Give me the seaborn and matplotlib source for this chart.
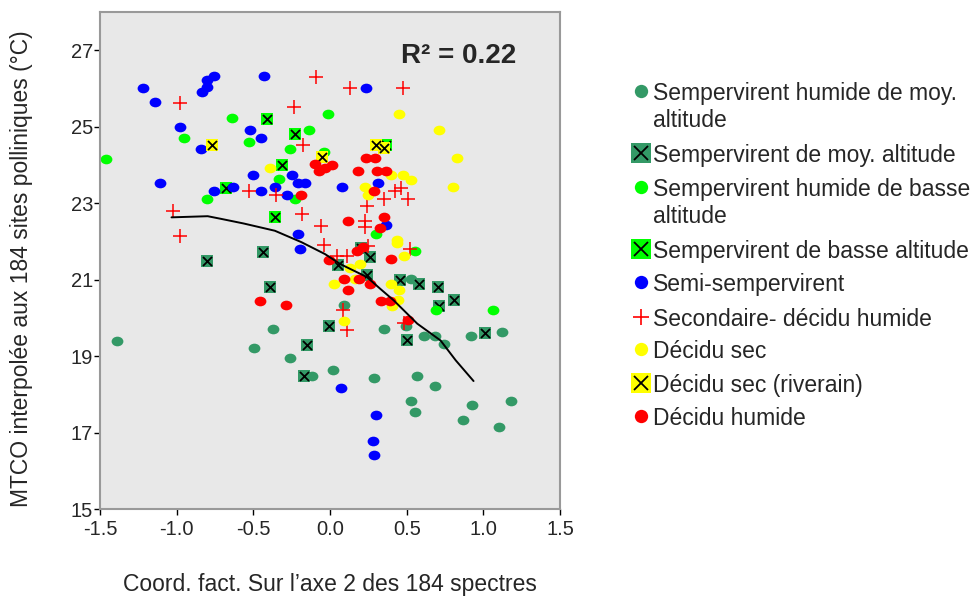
import numpy as np
import pandas as pd
import matplotlib
matplotlib.use("Agg")
import matplotlib.pyplot as plt
import matplotlib.path as mpath
from matplotlib.transforms import Affine2D
from matplotlib.lines import Line2D
import seaborn as sns

# --- data ---
# Sempervirent humide de moy. altitude (circles)
shm_x = [-1.39, -0.374, -0.496, -0.26, -0.12, 0.018, 0.287, 0.564, 0.684, 0.53, 0.557, 0.927, 0.866,
         1.178, 1.10, 0.743, 0.53, 0.094, 0.354, 0.498, 0.612, 0.682, 0.918, 1.12]
shm_y = [19.4, 19.72, 19.22, 18.94, 18.49, 18.63, 18.44, 18.49, 18.22, 17.82, 17.55, 17.72, 17.32,
         17.82, 17.14, 19.31, 21.02, 20.33, 19.72, 19.8, 19.54, 19.54, 19.54, 19.62]
# Sempervirent de moy. altitude (squares)
sm_x = [-0.80, -0.44, -0.39, -0.153, -0.005, -0.17, 0.503, 0.203, 0.262, 0.055, 0.24, 0.455, 0.58,
        0.704, 0.81, 0.71, 1.01]
sm_y = [21.5, 21.72, 20.8, 19.28, 19.8, 18.49, 19.41, 21.83, 21.6, 21.39, 21.11, 21.0, 20.89,
        20.8, 20.48, 20.31, 19.6]
# Sempervirent humide de basse altitude (circles)
shb_x = [-1.46, -0.955, -0.64, -0.53, -0.26, -0.14, -0.015, -0.33, -0.80, -0.23, -0.04, 0.30, 0.557,
         0.69, 1.064]
shb_y = [24.15, 24.71, 25.23, 24.6, 24.41, 24.91, 25.33, 23.63, 23.1, 23.1, 24.34, 22.2, 21.74,
         20.21, 20.21]
# Sempervirent de basse altitude (squares)
sb_x = [-0.41, -0.23, -0.315, -0.68, -0.36, 0.367]
sb_y = [25.2, 24.8, 24.0, 23.4, 22.63, 24.52]
# Semi-sempervirent
semi_x = [-1.22, -1.14, -0.80, -0.754, -0.80, -0.835, -0.43, -0.98, -0.84, -0.52, -0.45, -1.11, -0.754,
          -0.63, -0.505, -0.45, -0.36, -0.28, -0.25, -0.21, -0.16, 0.234, 0.077, 0.31, -0.21, -0.197,
          0.363, 0.074, 0.30, 0.28, 0.29]
semi_y = [26.01, 25.64, 26.21, 26.32, 26.04, 25.91, 26.32, 25.0, 24.42, 24.91, 24.71, 23.52, 23.33,
          23.43, 23.73, 23.33, 23.43, 23.22, 23.73, 23.52, 23.52, 26.02, 23.43, 23.52, 22.2, 21.79,
          22.42, 18.18, 17.45, 16.77, 16.41]
# Secondaire- décidu humide (crosses)
sec_x = [-0.09, -0.98, -0.234, -0.177, -0.53, -0.35, -1.025, -0.186, 0.127, 0.477, 0.238, 0.35, 0.426,
         0.46, 0.507, -0.98, -0.06, -0.037, 0.225, 0.225, 0.52, 0.25, 0.048, 0.11, 0.083, 0.113, 0.485]
sec_y = [26.3, 25.61, 25.51, 24.52, 23.32, 23.21, 22.8, 22.72, 26.0, 26.0, 22.93, 23.11, 23.33,
         23.4, 23.11, 22.13, 22.41, 21.92, 22.53, 22.39, 21.81, 21.89, 21.63, 21.63, 20.2, 19.68, 19.87]
# Décidu sec
ds_x = [-0.39, 0.45, 0.713, 0.826, 0.80, 0.398, 0.474, 0.53, 0.225, 0.247, 0.028, 0.437, 0.437, 0.48,
        0.13, 0.197, 0.164, 0.398, 0.45, 0.444, 0.405, 0.092]
ds_y = [23.92, 25.33, 24.91, 24.19, 23.43, 23.74, 23.74, 23.6, 23.43, 23.21, 20.89, 22.04, 21.95, 21.62,
        21.3, 21.41, 21.02, 20.89, 20.72, 20.48, 20.3, 19.92]
# Décidu sec (riverain) (squares)
dsr_x = [-0.77, -0.05, 0.30, 0.35]
dsr_y = [24.52, 24.2, 24.52, 24.45]
# Décidu humide
dh_x = [-0.10, -0.07, -0.03, 0.013, -0.19, 0.234, 0.293, 0.18, 0.308, 0.365, 0.289, 0.12, 0.35, 0.328,
        -0.46, -0.29, -0.005, 0.40, 0.175, 0.218, 0.092, 0.186, 0.262, 0.116, 0.334, 0.393, 0.507]
dh_y = [24.02, 23.83, 23.91, 24.0, 23.22, 24.19, 24.19, 23.83, 23.83, 23.83, 23.33, 22.54, 22.63, 22.34,
        20.44, 20.33, 21.52, 21.53, 21.76, 21.85, 21.02, 21.02, 20.89, 20.72, 20.44, 20.44, 19.95]

# smoothed fit line
fit_x = [-1.034, -0.798, -0.71, -0.564, -0.36, -0.186, -0.033, 0.066, 0.24, 0.328, 0.415, 0.569,
         0.721, 0.82, 0.936]
fit_y = [22.63, 22.66, 22.59, 22.47, 22.28, 21.98, 21.67, 21.41, 21.07, 20.76, 20.46, 19.85,
         19.41, 18.89, 18.35]

labels = [["Sempervirent humide de moy.", "altitude"], ["Sempervirent de moy. altitude"],
          ["Sempervirent humide de basse", "altitude"], ["Sempervirent de basse altitude"],
          ["Semi-sempervirent"], ["Secondaire- décidu humide"], ["Décidu sec"],
          ["Décidu sec (riverain)"], ["Décidu humide"]]

sns.set_theme(style="ticks")
plt.rcParams['font.family'] = ['Liberation Sans', 'DejaVu Sans']

dkgreen = "#339966"
lime = "#00FF00"
blue = "#0000FF"
red = "#FF0000"
yellow = "#FFFF00"
ell = mpath.Path.unit_circle().transformed(Affine2D().scale(1.0, 0.82))

fig = plt.figure(figsize=(9.77, 5.99), dpi=100)
ax = fig.add_axes([0.1024, 0.150, 0.4708, 0.830])
ax.set_facecolor("#E8E8E8")

def dots(x, y, c):
    sns.scatterplot(x=x, y=y, ax=ax, color=c, marker=ell, s=72, linewidth=0, legend=False)

def boxes(x, y, c):
    sns.scatterplot(x=x, y=y, ax=ax, color=c, marker="s", s=84, linewidth=0, legend=False)
    sns.scatterplot(x=x, y=y, ax=ax, color="black", marker="x", s=42, linewidth=1.3, legend=False)

dots(shm_x, shm_y, dkgreen)
boxes(sm_x, sm_y, dkgreen)
dots(shb_x, shb_y, lime)
boxes(sb_x, sb_y, lime)
dots(semi_x, semi_y, blue)
sns.scatterplot(x=sec_x, y=sec_y, ax=ax, color=red, marker="+", s=95, linewidth=1.1, legend=False)
dots(ds_x, ds_y, yellow)
boxes(dsr_x, dsr_y, yellow)
dots(dh_x, dh_y, red)

sns.lineplot(x=fit_x, y=fit_y, ax=ax, sort=False, color="black", linewidth=1.4)

ax.text(0.84, 26.84, "R² = 0.22", fontsize=20, fontweight="bold", ha="center", va="center")

ax.set_xlim(-1.5, 1.5)
ax.set_ylim(15, 28)
ax.set_xticks([-1.5, -1.0, -0.5, 0.0, 0.5, 1.0, 1.5])
ax.set_xticklabels(["-1.5", "-1.0", "-0.5", "0.0", "0.5", "1.0", "1.5"])
ax.set_yticks([15, 17, 19, 21, 23, 25, 27])
ax.tick_params(direction="out", length=4, width=1, color="black", labelsize=14.5)
ax.tick_params(axis="x", pad=4)
ax.tick_params(axis="y", pad=1)
for sp in ax.spines.values():
    sp.set_color("#999999")
    sp.set_linewidth(1.5)
    sp.set_visible(True)
ax.set_xlabel("Coord. fact. Sur l’axe 2 des 184 spectres", fontsize=16.5, labelpad=24)
ax.set_ylabel("MTCO interpolée aux 184 sites polliniques (°C)", fontsize=16.5)
ax.yaxis.set_label_coords(-0.146, 0.483)

# legend drawn by hand so that markers sit on the first line of two-line labels
W, H = 977.0, 599.0
row_y = [91, 153, 187, 249, 282, 317, 349, 383, 416]
styles = [("dot", dkgreen), ("box", dkgreen), ("dot", lime), ("box", lime), ("dot", blue),
          ("plus", red), ("dot", yellow), ("box", yellow), ("dot", red)]
mx, tx = 641 / W, 653 / W
for (kind, c), yy, lab in zip(styles, row_y, labels):
    fy = 1 - yy / H
    if kind == "dot":
        fig.add_artist(Line2D([mx], [fy], transform=fig.transFigure, linestyle="none", marker="o",
                              markersize=9.6, color=c, markeredgewidth=0))
    elif kind == "box":
        fig.add_artist(Line2D([mx], [fy], transform=fig.transFigure, linestyle="none", marker="s",
                              markersize=13.9, color=c, markeredgewidth=0))
        fig.add_artist(Line2D([mx], [fy], transform=fig.transFigure, linestyle="none", marker="x",
                              markersize=10, color="black", markeredgewidth=1.3))
    else:
        fig.add_artist(Line2D([mx], [fy], transform=fig.transFigure, linestyle="none", marker="+",
                              markersize=11, color=c, markeredgewidth=1.2))
    for k, line in enumerate(lab):
        fig.text(tx, 1 - (yy + 27 * k) / H, line, fontsize=16.5, ha="left", va="center_baseline")

fig.savefig("out.png", dpi=100)
